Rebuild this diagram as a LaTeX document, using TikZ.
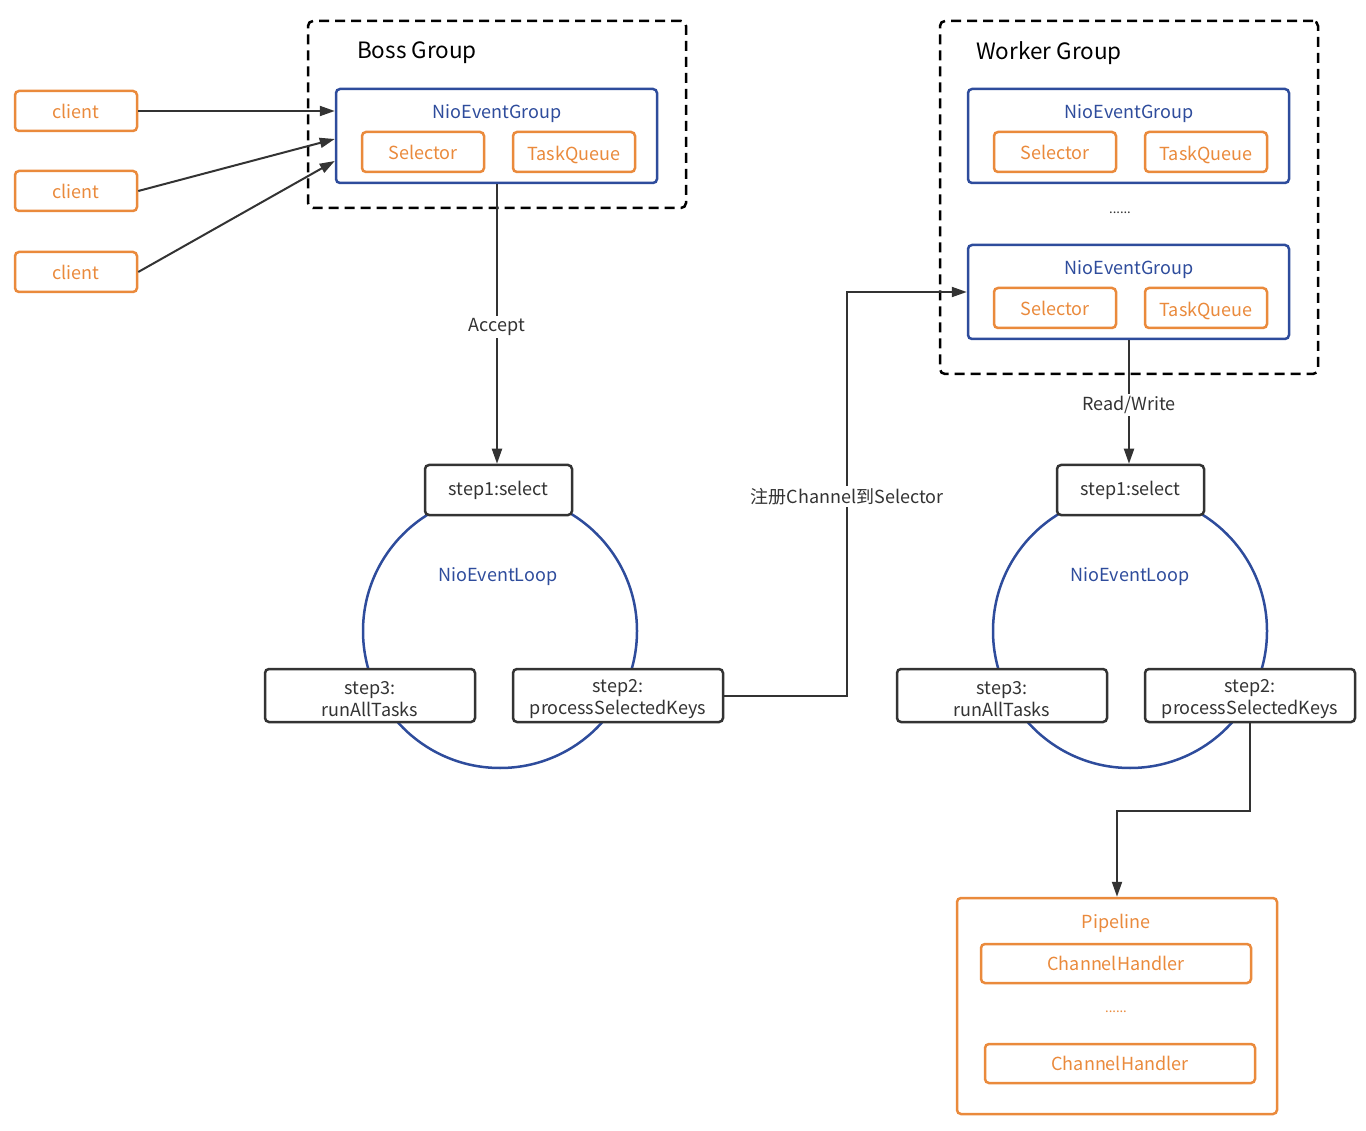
\documentclass[tikz,border=0pt]{standalone}
\usepackage{fontspec}
\setmainfont{Noto Sans CJK SC}
\usetikzlibrary{arrows.meta,calc}
\definecolor{org}{HTML}{EA8A3C}
\definecolor{blu}{HTML}{2E4C9C}
\definecolor{drk}{HTML}{333333}
\newcommand\fsz[1]{\fontsize{#1}{22}\selectfont}
\newcommand\tstrut{\rule{0pt}{20pt}}
\begin{document}
\begin{tikzpicture}[x=1pt,y=-1pt,
  obox/.style={draw=org,line width=2.5pt,rounded corners=4pt,text=org,fill=white,inner sep=0pt,font=\fsz{18}},
  bbox/.style={draw=blu,line width=2.5pt,rounded corners=4pt,fill=white,inner sep=0pt},
  kbox/.style={draw=drk,line width=2.5pt,rounded corners=4pt,text=drk,fill=white,inner sep=0pt,align=center,font=\fsz{18}},
  grp/.style={draw=black,line width=2.5pt,dash pattern=on 10pt off 6pt,rounded corners=5pt,inner sep=0pt},
  loop/.style={draw=blu,line width=2.5pt,circle,minimum size=274pt,inner sep=0pt},
  btxt/.style={text=blu,font=\fsz{18},inner sep=0pt,yshift=-2.5pt},
  otxt/.style={text=org,font=\fsz{18},inner sep=0pt,yshift=-2.5pt},
  gtxt/.style={text=black,font=\fsz{22.5},inner sep=0pt,yshift=-3pt},
  lbl/.style={fill=white,text=drk,font=\fsz{18},inner sep=2pt,yshift=-3pt},
  arr/.style={draw=drk,line width=2pt,-{Triangle[length=15pt,width=10pt]}},
  ln/.style={draw=drk,line width=2pt}]
\useasboundingbox (0,0) rectangle (1366,1131);

% groups
\node[grp,minimum width=378pt,minimum height=187pt] (bossbox) at (497,114.5) {};
\node[gtxt] (bossl) at (417,50) {Boss Group};
\node[grp,minimum width=378pt,minimum height=353pt] (wbox) at (1129,197.5) {};
\node[gtxt] (wl) at (1049,50) {Worker Group};

% clients
\node[obox,minimum width=122pt,minimum height=40pt] (c1) at (76,111) {client};
\node[obox,minimum width=122pt,minimum height=40pt] (c2) at (76,191) {client};
\node[obox,minimum width=122pt,minimum height=40pt] (c3) at (76,272) {client};

% boss event group
\node[bbox,minimum width=321pt,minimum height=94pt] (bng) at (496.5,136) {};
\node[btxt] (bngl) at (497,111) {NioEventGroup};
\node[obox,minimum width=122pt,minimum height=40pt] (bsel) at (423,152) {Selector};
\node[obox,minimum width=122pt,minimum height=40pt] (btq) at (574,152) {\tstrut TaskQueue};

% worker event groups
\node[bbox,minimum width=321pt,minimum height=94pt] (wng1) at (1128.5,136) {};
\node[btxt] (wng1l) at (1129,111) {NioEventGroup};
\node[obox,minimum width=122pt,minimum height=40pt] (wsel1) at (1055,152) {Selector};
\node[obox,minimum width=122pt,minimum height=40pt] (wtq1) at (1206,152) {\tstrut TaskQueue};
\node[text=drk,font=\fsz{13},inner sep=0pt,yshift=-2pt] (wdots) at (1120,211) {......};
\node[bbox,minimum width=321pt,minimum height=94pt] (wng2) at (1128.5,292) {};
\node[btxt] (wng2l) at (1129,267) {NioEventGroup};
\node[obox,minimum width=122pt,minimum height=40pt] (wsel2) at (1055,308) {Selector};
\node[obox,minimum width=122pt,minimum height=40pt] (wtq2) at (1206,308) {\tstrut TaskQueue};

% boss loop
\node[loop] (bloop) at (500,631) {};
\node[btxt] (bloopl) at (498,574) {NioEventLoop};
\node[kbox,minimum width=147pt,minimum height=50pt] (bst1) at (498.5,490) {step1:select};
\node[kbox,minimum width=210pt,minimum height=53pt] (bs3) at (370,695.5) {\tstrut step3:\\runAllTasks};
\node[kbox,minimum width=210pt,minimum height=53pt] (bs2) at (618,695.5) {\tstrut step2:\\processSelectedKeys};

% worker loop
\node[loop] (wloop) at (1130,631) {};
\node[btxt] (wloopl) at (1130,574) {NioEventLoop};
\node[kbox,minimum width=147pt,minimum height=50pt] (wst1) at (1130.5,490) {step1:select};
\node[kbox,minimum width=210pt,minimum height=53pt] (ws3) at (1002,695.5) {\tstrut step3:\\runAllTasks};
\node[kbox,minimum width=210pt,minimum height=53pt] (ws2) at (1250,695.5) {\tstrut step2:\\processSelectedKeys};

% pipeline
\node[obox,minimum width=320pt,minimum height=216pt] (pipe) at (1117,1006) {};
\node[otxt] (pipel) at (1116,921) {Pipeline};
\node[obox,minimum width=270pt,minimum height=39pt] (ch1) at (1116,963.5) {ChannelHandler};
\node[text=org,font=\fsz{13},inner sep=0pt,yshift=-2pt] (pdots) at (1116,1010) {......};
\node[obox,minimum width=270pt,minimum height=39pt] (ch2) at (1120,1063.5) {ChannelHandler};

% connectors
\draw[arr] (c1.east) -- ([yshift=25pt]bng.west);
\draw[arr] (c2.east) -- ([yshift=-3pt]bng.west);
\draw[arr] (c3.east) -- ([yshift=-25pt]bng.west);
\draw[arr] ([xshift=0.5pt]bng.south) -- node[lbl]{Accept} ([xshift=-1.5pt]bst1.north);
\draw[arr] (bs2.east) -- ++(123,0) |- node[lbl,pos=0.25]{注册Channel到Selector} (wng2.west);
\draw[arr] ([xshift=0.5pt]wng2.south) -- node[lbl]{Read/Write} ([xshift=-1.5pt]wst1.north);
\draw[arr] (ws2.south) -- ++(0,88) -| (pipe.north);
\end{tikzpicture}
\end{document}
